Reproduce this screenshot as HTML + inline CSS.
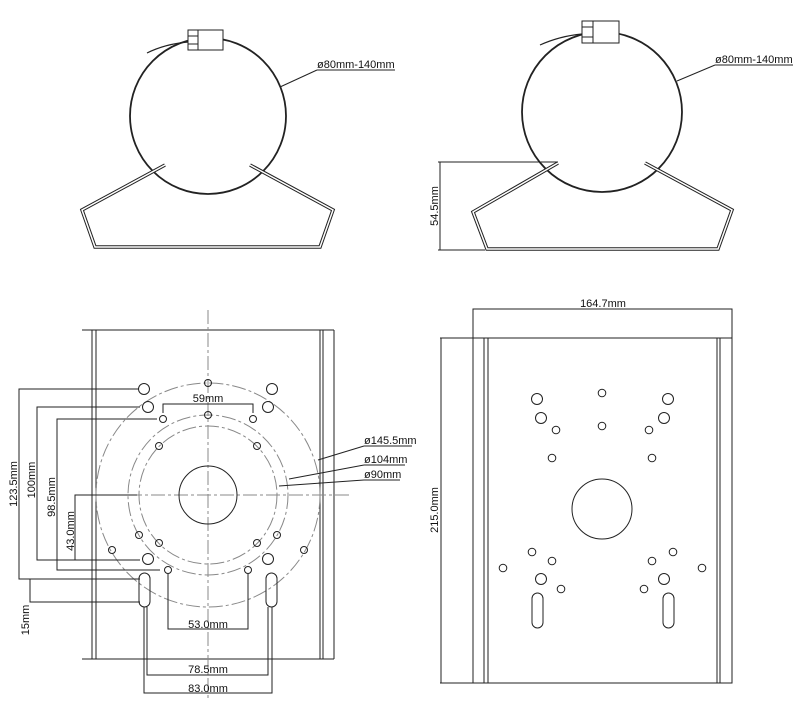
<!DOCTYPE html>
<html><head><meta charset="utf-8"><style>
html,body{margin:0;padding:0;background:#fff}
svg{display:block}
text{font-family:"Liberation Sans",sans-serif;font-size:11px;fill:#111}
</style></head><body>
<svg width="800" height="716" viewBox="0 0 800 716" xmlns="http://www.w3.org/2000/svg">
<g fill="none" stroke="#222" stroke-width="1">
<!-- TOP LEFT -->
<circle cx="208" cy="116" r="78" stroke-width="1.8"/>
<path d="M147,53 Q165,44 188,42" stroke-width="1.2"/>
<rect x="188" y="30" width="35" height="20" fill="#fff"/>
<line x1="198" y1="30" x2="198" y2="50"/><line x1="188" y1="36" x2="198" y2="36"/><line x1="188" y1="44" x2="198" y2="44"/>
<polyline points="165,165 82,210 95,247 320,247 333,210 250,165" stroke-width="3.5" stroke-linejoin="miter"/>
<polyline points="165,165 82,210 95,247 320,247 333,210 250,165" stroke="#fff" stroke-width="1.5"/>
<line x1="280" y1="87" x2="317" y2="70"/><line x1="317" y1="70" x2="395" y2="70"/>
<!-- TOP RIGHT -->
<circle cx="602" cy="112" r="80" stroke-width="1.8"/>
<path d="M540,45 Q560,36 582,34" stroke-width="1.2"/>
<rect x="582" y="21" width="37" height="22" fill="#fff"/>
<line x1="593" y1="21" x2="593" y2="43"/><line x1="582" y1="27" x2="593" y2="27"/><line x1="582" y1="37" x2="593" y2="37"/>
<polyline points="558,163 473,212 487,249 718,249 732,210 645,163" stroke-width="3.5"/>
<polyline points="558,163 473,212 487,249 718,249 732,210 645,163" stroke="#fff" stroke-width="1.5"/>
<line x1="677" y1="81" x2="715" y2="65"/><line x1="715" y1="65" x2="793" y2="65"/>
<line x1="438" y1="162" x2="558" y2="162"/><line x1="438" y1="250" x2="485" y2="250"/><line x1="440" y1="162" x2="440" y2="250"/>

<!-- BOTTOM LEFT plate -->
<line x1="82" y1="330" x2="334" y2="330"/><line x1="82" y1="659" x2="334" y2="659"/>
<line x1="92" y1="330" x2="92" y2="659"/><line x1="96" y1="330" x2="96" y2="659"/>
<line x1="320" y1="330" x2="320" y2="659"/><line x1="323" y1="330" x2="323" y2="659"/><line x1="334" y1="330" x2="334" y2="659"/>
<g stroke="#888" stroke-dasharray="14,3,3,3">
<line x1="208" y1="310" x2="208" y2="700"/><line x1="128" y1="495" x2="350" y2="495"/>
<circle cx="208" cy="495" r="112"/><circle cx="208" cy="495" r="80"/><circle cx="208" cy="495" r="69"/>
</g>
<circle cx="208" cy="495" r="29"/>
<g>
<circle cx="144" cy="389" r="5.5"/><circle cx="272" cy="389" r="5.5"/><circle cx="148" cy="407" r="5.5"/><circle cx="268" cy="407" r="5.5"/>
<circle cx="148" cy="559" r="5.5"/><circle cx="268" cy="559" r="5.5"/>
<circle cx="208" cy="383" r="3.5"/><circle cx="163" cy="419" r="3.5"/><circle cx="208" cy="415" r="3.5"/><circle cx="253" cy="419" r="3.5"/>
<circle cx="159" cy="446" r="3.5"/><circle cx="257" cy="446" r="3.5"/><circle cx="139" cy="535" r="3.5"/><circle cx="277" cy="535" r="3.5"/>
<circle cx="159" cy="543" r="3.5"/><circle cx="257" cy="543" r="3.5"/><circle cx="112" cy="550" r="3.5"/><circle cx="304" cy="550" r="3.5"/>
<circle cx="168" cy="570" r="3.5"/><circle cx="248" cy="570" r="3.5"/>
<rect x="139" y="573" width="11" height="34" rx="5.5"/><rect x="266" y="573" width="11" height="34" rx="5.5"/>
</g>
<!-- dims left -->
<polyline points="138,389 19,389 19,579 140,579"/>
<polyline points="140,407 37,407 37,560 140,560"/>
<polyline points="157,419 57,419 57,570 160,570"/>
<polyline points="137,495 75,495 75,560"/>
<polyline points="30,579 30,602 140,602"/>
<polyline points="163,413 163,404 253,404 253,413"/>
<polyline points="168,574 168,629 248,629 248,574"/>
<polyline points="147,607 147,675 268,675 268,607"/>
<polyline points="144,607 144,693 272,693 272,607"/>
<line x1="318" y1="460" x2="364" y2="446"/><line x1="364" y1="446" x2="412" y2="446"/>
<line x1="289" y1="479" x2="364" y2="465"/><line x1="364" y1="465" x2="405" y2="465"/>
<line x1="279" y1="486" x2="364" y2="480"/><line x1="364" y1="480" x2="400" y2="480"/>

<!-- BOTTOM RIGHT -->
<rect x="473" y="338" width="259" height="345"/>
<line x1="484" y1="338" x2="484" y2="683"/><line x1="488" y1="338" x2="488" y2="683"/>
<line x1="717" y1="338" x2="717" y2="683"/><line x1="720" y1="338" x2="720" y2="683"/>
<polyline points="473,338 473,309 732,309 732,338"/>
<line x1="441" y1="338" x2="441" y2="683"/><line x1="440" y1="338" x2="473" y2="338"/><line x1="440" y1="683" x2="473" y2="683"/>
<circle cx="602" cy="509" r="30"/>
<circle cx="537" cy="399" r="5.5"/><circle cx="668" cy="399" r="5.5"/><circle cx="541" cy="418" r="5.5"/><circle cx="664" cy="418" r="5.5"/>
<circle cx="541" cy="579" r="5.5"/><circle cx="664" cy="579" r="5.5"/>
<circle cx="602" cy="393" r="3.8"/><circle cx="556" cy="430" r="3.8"/><circle cx="602" cy="426" r="3.8"/><circle cx="649" cy="430" r="3.8"/>
<circle cx="552" cy="458" r="3.8"/><circle cx="652" cy="458" r="3.8"/>
<circle cx="532" cy="552" r="3.8"/><circle cx="552" cy="561" r="3.8"/><circle cx="503" cy="568" r="3.8"/><circle cx="561" cy="589" r="3.8"/>
<circle cx="673" cy="552" r="3.8"/><circle cx="652" cy="561" r="3.8"/><circle cx="702" cy="568" r="3.8"/><circle cx="644" cy="589" r="3.8"/>
<rect x="532" y="593" width="11" height="35" rx="5.5"/><rect x="663" y="593" width="11" height="35" rx="5.5"/>
</g>
<text x="317" y="68">ø80mm-140mm</text>
<text x="715" y="63">ø80mm-140mm</text>
<text transform="translate(438,206) rotate(-90)" text-anchor="middle">54.5mm</text>
<text x="208" y="402" text-anchor="middle">59mm</text>
<text x="208" y="628" text-anchor="middle">53.0mm</text>
<text x="208" y="673" text-anchor="middle">78.5mm</text>
<text x="208" y="692" text-anchor="middle">83.0mm</text>
<text x="364" y="444">ø145.5mm</text>
<text x="364" y="463">ø104mm</text>
<text x="364" y="478">ø90mm</text>
<text transform="translate(17,484) rotate(-90)" text-anchor="middle">123.5mm</text>
<text transform="translate(35,480) rotate(-90)" text-anchor="middle">100mm</text>
<text transform="translate(55,497) rotate(-90)" text-anchor="middle">98.5mm</text>
<text transform="translate(74,531) rotate(-90)" text-anchor="middle">43.0mm</text>
<text transform="translate(29,620) rotate(-90)" text-anchor="middle">15mm</text>
<text x="603" y="307" text-anchor="middle">164.7mm</text>
<text transform="translate(438,510) rotate(-90)" text-anchor="middle">215.0mm</text>
</svg>
</body></html>
